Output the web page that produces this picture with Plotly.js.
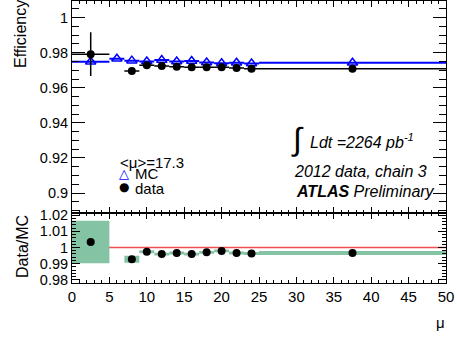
<!DOCTYPE html>
<html>
<head>
<meta charset="utf-8">
<script src="https://cdn.plot.ly/plotly-3.0.1.min.js"></script>
<style>html,body{margin:0;padding:0;background:#fff;}#chart{width:457px;height:338px;}</style>
</head>
<body>
<div id="chart"></div>
<script>
// MC efficiency per pile-up bin
const mcMu      = [2.5, 6, 8, 10, 12, 14, 16, 18, 20, 22, 24, 37.5];
const mcHalfW   = [2.5, 1, 1, 1, 1, 1, 1, 1, 1, 1, 1, 12.5];
const mcEff     = [0.9749, 0.9766, 0.9755, 0.9750, 0.9758, 0.9750, 0.9753, 0.9744, 0.9740, 0.9743, 0.9739, 0.9743];
// Data efficiency per pile-up bin
const dataMu    = [2.5, 8, 10, 12, 14, 16, 18, 20, 22, 24, 37.5];
const dataHalfW = [2.5, 1, 1, 1, 1, 1, 1, 1, 1, 1, 12.5];
const dataEff   = [0.9792, 0.9696, 0.9728, 0.9724, 0.9720, 0.9717, 0.9717, 0.9717, 0.9713, 0.9708, 0.9709];
const dataErr   = [0.0125, 0.0006, 0.0004, 0.0004, 0.0004, 0.0004, 0.0004, 0.0004, 0.0004, 0.0004, 0.0003];
// Data/MC ratio and its uncertainty
const ratio     = [1.0034, 0.9927, 0.9974, 0.9959, 0.9966, 0.9959, 0.9970, 0.9979, 0.9966, 0.9963, 0.9966];
const ratioErr  = [0.0132, 0.0022, 0.0009, 0.0009, 0.0009, 0.0009, 0.0009, 0.0009, 0.0009, 0.0009, 0.0013];
const muAvg = "17.3";
const lumi = "2264";

const font = "Liberation Sans, Arial, Helvetica, sans-serif";
const green = "#84c4a4";

const bandBase = ratio.map((r, i) => r - ratioErr[i]);
const bandH = ratioErr.map(e => 2 * e);
const binW = dataHalfW.map(h => 2 * h);

const traces = [
  {
    type: "bar", xaxis: "x2", yaxis: "y2",
    x: dataMu, y: bandH, base: bandBase, width: binW,
    marker: {color: green, line: {width: 0}},
    showlegend: false, hoverinfo: "skip"
  },
  {
    type: "scatter", mode: "markers", xaxis: "x2", yaxis: "y2",
    x: dataMu, y: ratio,
    marker: {symbol: "circle", size: 8, color: "#000"},
    showlegend: false
  },
  {
    type: "scatter", mode: "markers", name: "MC",
    x: mcMu, y: mcEff,
    marker: {symbol: "triangle-up-open", size: 9, color: "#0000ff", line: {width: 1.5, color: "#0000ff"}},
    error_x: {type: "data", array: mcHalfW, width: 0, thickness: 2, color: "#0000ff"},
    showlegend: false
  },
  {
    type: "scatter", mode: "markers", name: "data",
    x: dataMu, y: dataEff,
    marker: {symbol: "circle", size: 8, color: "#000"},
    error_x: {type: "data", array: dataHalfW, width: 0, thickness: 1.5, color: "#000"},
    error_y: {type: "data", array: dataErr, width: 0, thickness: 1.5, color: "#000"},
    showlegend: false
  }
];

const axBase = {
  showline: true, linecolor: "#000", linewidth: 1, mirror: "allticks",
  showgrid: false, zeroline: false, ticks: "inside", tickcolor: "#000",
  tickfont: {family: font, size: 14.5, color: "#000"}
};

const px = v => (v - 72) / 374;
const py = v => (283 - v) / 282;

const ann = (text, x, y, opts) => Object.assign({
  text: text, xref: "paper", yref: "paper", x: px(x), y: py(y),
  xanchor: "left", yanchor: "middle", showarrow: false, borderpad: 0,
  font: {family: font, size: 16, color: "#000"}
}, opts || {});

const layout = {
  width: 457, height: 338,
  margin: {l: 72, r: 11, t: 1, b: 55},
  paper_bgcolor: "#fff", plot_bgcolor: "#fff",
  barmode: "overlay",
  showlegend: false,
  xaxis: Object.assign({}, axBase, {
    domain: [0, 1], anchor: "y", matches: "x2", range: [0, 50],
    showticklabels: false, dtick: 5, tick0: 0, ticklen: 6,
    minor: {dtick: 1, ticklen: 3, ticks: "inside", tickcolor: "#000"}
  }),
  yaxis: Object.assign({}, axBase, {
    domain: [0.25, 1], anchor: "x", range: [0.8889, 1.0095],
    dtick: 0.02, tick0: 0.9, ticklen: 13,
    minor: {dtick: 0.005, ticklen: 7, ticks: "inside", tickcolor: "#000"}
  }),
  xaxis2: Object.assign({}, axBase, {
    domain: [0, 1], anchor: "y2", range: [0, 50],
    dtick: 5, tick0: 0, ticklen: 6,
    tickfont: {family: font, size: 15, color: "#000"},
    minor: {dtick: 1, ticklen: 3, ticks: "inside", tickcolor: "#000"}
  }),
  yaxis2: Object.assign({}, axBase, {
    domain: [0, 0.25], anchor: "x2", range: [0.978, 1.0217],
    dtick: 0.01, tick0: 1, ticklen: 8,
    minor: {dtick: 0.002, ticklen: 4, ticks: "inside", tickcolor: "#000"}
  }),
  shapes: [
    {type: "line", xref: "x2 domain", yref: "y2", x0: 0, x1: 1, y0: 1, y1: 1,
     line: {color: "#f05050", width: 1.5}, layer: "below"}
  ],
  annotations: [
    ann("Efficiency", 20, 34, {textangle: -90, xanchor: "center"}),
    ann("Data/MC", 22, 247, {textangle: -90, xanchor: "center"}),
    ann("μ", 440, 322, {xanchor: "center", font: {family: font, size: 15, color: "#000"}}),
    ann("&lt;μ&gt;=" + muAvg, 119, 162, {font: {family: font, size: 15, color: "#000"}}),
    ann("MC", 134, 174, {font: {family: font, size: 15, color: "#000"}}),
    ann("data", 134, 188, {font: {family: font, size: 15, color: "#000"}}),
    ann("△", 124, 174, {xanchor: "center", font: {family: "DejaVu Sans", size: 13, color: "#0000ff"}}),
    ann("●", 124, 187.5, {xanchor: "center", font: {family: "DejaVu Sans", size: 12, color: "#000"}}),
    ann("∫", 297, 138.5, {xanchor: "center", font: {family: font, size: 32, color: "#000"}}),
    ann("<i>Ldt =" + lumi + " pb<sup>-1</sup></i>", 309, 141),
    ann("<i>2012 data, chain 3</i>", 293, 171.4),
    ann("<b><i>ATLAS</i></b><i> Preliminary</i>", 295, 191.5)
  ]
};

Plotly.newPlot("chart", traces, layout, {staticPlot: true, displayModeBar: false});
</script>
</body>
</html>
